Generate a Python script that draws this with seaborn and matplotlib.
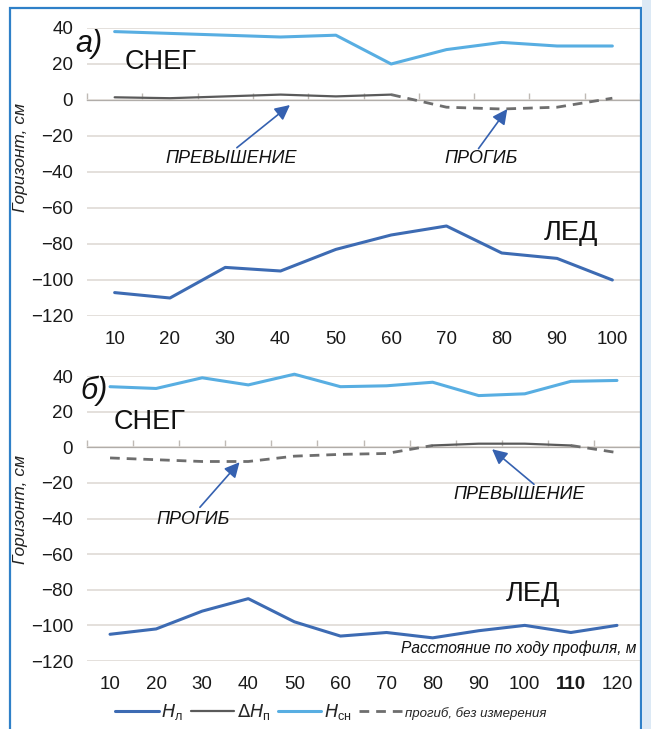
import matplotlib.pyplot as plt
import matplotlib.patches as mpatches
from matplotlib.lines import Line2D
import seaborn as sns

# панель а)
dist_a = [10, 20, 30, 40, 50, 60, 70, 80, 90, 100]
snow_a = [38, 37, 36, 35, 36, 20, 28, 32, 30, 30]
ice_a = [-107, -110, -93, -95, -83, -75, -70, -85, -88, -100]
delta_a = [1.5, 1, 2, 3, 2, 3, -4, -5, -4, 1]
measured_a = [1, 1, 1, 1, 1, 1, 0, 0, 0, 0]

# панель б)
dist_b = [10, 20, 30, 40, 50, 60, 70, 80, 90, 100, 110, 120]
snow_b = [34, 33, 39, 35, 41, 34, 34.5, 36.5, 29, 30, 37, 37.5]
ice_b = [-105, -102, -92, -85, -98, -106, -104, -107, -103, -100, -104, -100]
delta_b = [-6, -7, -8, -8, -5, -4, -3.5, 1, 2, 2, 1, -3]
measured_b = [0, 0, 0, 0, 0, 0, 0, 1, 1, 1, 1, 0]

y_ticks = [40, 20, 0, -20, -40, -60, -80, -100, -120]

C_ICE = '#3d6bb3'
C_SNOW = '#58aee2'
C_DELTA = '#5a5a5a'
C_DASH = '#6e6e6e'
C_ARROW = '#3561b0'
C_GRID = '#dcd7d2'

sns.set_style('white')
plt.rcParams['font.family'] = ['Liberation Sans Narrow', 'Liberation Sans', 'DejaVu Sans']
plt.rcParams['axes.unicode_minus'] = True

W, H = 651, 729
fig = plt.figure(figsize=(W / 100, H / 100), dpi=100)


def px(x, y):
    return x / W, 1 - y / H


def draw_panel(rect, dist, snow, ice, delta, measured):
    ax = fig.add_axes(rect)
    sns.lineplot(x=dist, y=snow, ax=ax, color=C_SNOW, lw=2.2, clip_on=False)
    sns.lineplot(x=dist, y=ice, ax=ax, color=C_ICE, lw=2.2, clip_on=False)
    # delta: сплошная там, где измерено, пунктир - прогиб без измерения
    runs = []
    for i in range(len(dist) - 1):
        solid = bool(measured[i] and measured[i + 1])
        if runs and runs[-1][0] == solid:
            runs[-1][1].append(i + 1)
        else:
            runs.append([solid, [i, i + 1]])
    for solid, idx in runs:
        if solid:
            sns.lineplot(x=[dist[j] for j in idx], y=[delta[j] for j in idx],
                         ax=ax, color=C_DELTA, lw=1.6)
        else:
            sns.lineplot(x=[dist[j] for j in idx], y=[delta[j] for j in idx],
                         ax=ax, color=C_DASH, lw=2.0, linestyle=(0, (3.5, 2.5)))

    step = dist[1] - dist[0]
    ax.set_xlim(dist[0] - step / 2, dist[-1] + step / 2)
    ax.set_ylim(-120, 40)
    ax.set_yticks(y_ticks)
    ax.set_xticks(dist)
    ax.set_xticklabels([str(d) for d in dist])
    ax.grid(axis='y', color=C_GRID, lw=1.1)
    ax.grid(axis='x', visible=False)
    for s in ax.spines.values():
        s.set_visible(False)
    ax.tick_params(axis='both', length=0, labelsize=13.5, colors='#1a1a1a')
    ax.tick_params(axis='y', pad=10)
    ax.tick_params(axis='x', pad=11)
    ax.set_xlabel('')
    ax.set_ylabel('')

    # ось категорий на уровне 0
    sec = ax.secondary_xaxis(120 / 160)
    sec.set_xticks([d - step / 2 for d in dist] + [dist[-1] + step / 2])
    sec.set_xticklabels([])
    sec.tick_params(length=5, width=1, color='#bfbab5', direction='out')
    sec.spines['bottom'].set_color('#c8c3be')
    sec.spines['bottom'].set_linewidth(1.1)
    return ax


ax1 = draw_panel([87 / W, 1 - 316 / H, 553 / W, 288 / H],
                 dist_a, snow_a, ice_a, delta_a, measured_a)
ax2 = draw_panel([87 / W, 1 - 661 / H, 553 / W, 285 / H],
                 dist_b, snow_b, ice_b, delta_b, measured_b)
ax2.get_xticklabels()[10].set_fontweight('bold')

big = dict(fontsize=19.5, color='#111111', ha='center', va='center')
fig.text(*px(89, 44), 'а)', style='italic', fontsize=22, color='#111111',
         ha='center', va='center')
fig.text(*px(161, 62), 'СНЕГ', **big)
fig.text(*px(571, 233), 'ЛЕД', **big)
fig.text(*px(94, 391), 'б)', style='italic', fontsize=22, color='#111111',
         ha='center', va='center')
fig.text(*px(150, 422), 'СНЕГ', **big)
fig.text(*px(533, 594), 'ЛЕД', **big)

note = dict(fontsize=13, style='italic', color='#111111', ha='center', va='center')
arrow = dict(arrowstyle='-|>,head_length=0.9,head_width=0.45', color=C_ARROW, lw=1.2,
             shrinkA=0, shrinkB=0)
ax1.annotate('', xy=(41.7, -2.8), xytext=(32.1, -26.5), arrowprops=arrow)
ax1.annotate('', xy=(81, -5), xytext=(75.8, -27), arrowprops=arrow)
ax1.text(31, -32.7, 'ПРЕВЫШЕНИЕ', **note)
ax1.text(76.3, -32.7, 'ПРОГИБ', **note)
ax2.annotate('', xy=(38.1, -8.4), xytext=(29.5, -33.7), arrowprops=arrow)
ax2.annotate('', xy=(92.9, -1.1), xytext=(102, -20.8), arrowprops=arrow)
ax2.text(28, -40.4, 'ПРОГИБ', **note)
ax2.text(98.7, -26.4, 'ПРЕВЫШЕНИЕ', **note)

fig.text(*px(21, 158), 'Горизонт, см', rotation=90, style='italic', fontsize=12.5,
         ha='center', va='center', color='#222222')
fig.text(*px(21, 510), 'Горизонт, см', rotation=90, style='italic', fontsize=12.5,
         ha='center', va='center', color='#222222')
fig.text(*px(636, 648), 'Расстояние по ходу профиля, м', style='italic', fontsize=11.2,
         ha='right', va='center', color='#111111')

handles = [Line2D([], [], color=C_ICE, lw=2.2),
           Line2D([], [], color=C_DELTA, lw=1.6),
           Line2D([], [], color=C_SNOW, lw=2.2),
           Line2D([], [], color=C_DASH, lw=2.0, linestyle=(0, (3.5, 2.5)))]
labels = [r'$H_{\mathregular{л}}$', r'$\Delta H_{\mathregular{п}}$',
          r'$H_{\mathregular{сн}}$', 'прогиб, без измерения']
leg = fig.legend(handles, labels, loc='center', bbox_to_anchor=px(331, 712), ncol=4,
                 frameon=False, fontsize=13, handlelength=2.4, handletextpad=0.15,
                 columnspacing=0.4)
leg.get_texts()[3].set_fontsize(9.5)
leg.get_texts()[3].set_style('italic')

# синяя рамка
fig.patches.append(mpatches.Rectangle(px(10, 740), 631 / W, 732 / H, transform=fig.transFigure,
                                      fill=False, edgecolor='#2f80c8', lw=1.6))
fig.patches.append(mpatches.Rectangle(px(642, 729), 9 / W, 1, transform=fig.transFigure,
                                      facecolor='#dce9f5', edgecolor='none'))

fig.savefig('out.png', dpi=100)
